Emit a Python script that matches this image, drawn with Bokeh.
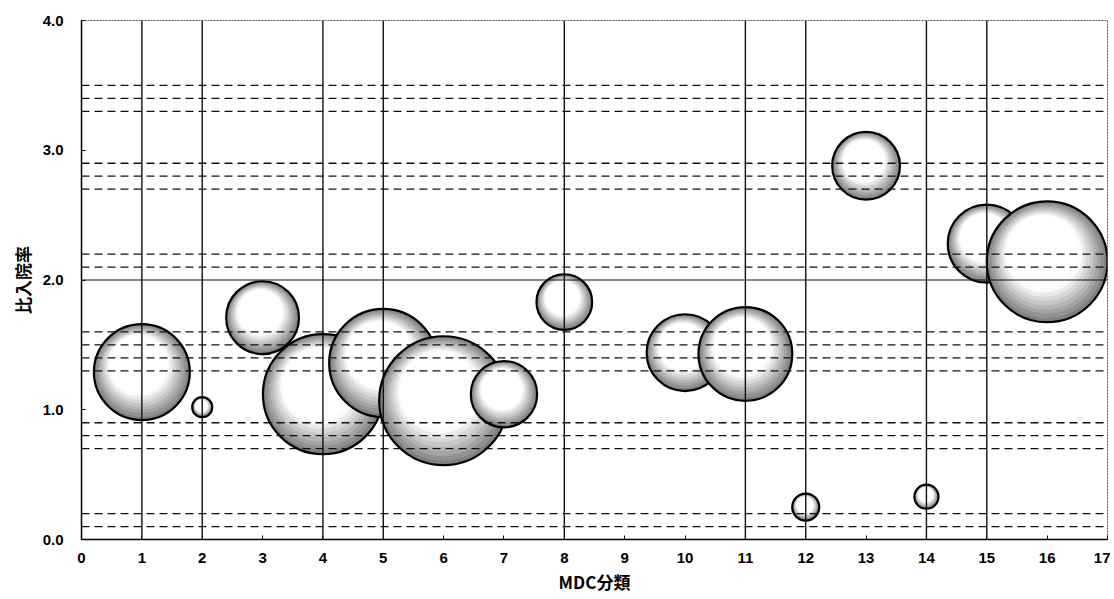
import numpy as np
from bokeh.plotting import figure
from bokeh.models import Range1d, FixedTicker, NumeralTickFormatter, Span, ColumnDataSource
from bokeh.embed import file_html
from bokeh.resources import INLINE

# ---- data ----
mdc = [1, 2, 3, 4, 5, 6, 7, 8, 10, 11, 12, 13, 14, 15, 16]
ratio = [1.29, 1.02, 1.71, 1.12, 1.36, 1.07, 1.12, 1.83, 1.44, 1.43, 0.25, 2.88, 0.33, 2.28, 2.14]
bubble_value = [92, 4.0, 53, 144, 117, 166, 44, 31, 59, 88, 7.3, 46, 5.8, 61, 146]
x_ticks = list(range(0, 18))
y_ticks = [0, 1, 2, 3, 4]
drop_lines_x = [1, 2, 4, 5, 8, 11, 12, 14, 15]
dashed_y = [0.1, 0.2, 0.7, 0.8, 0.9, 1.3, 1.4, 1.5, 1.6, 2.1, 2.2, 2.7, 2.8, 2.9, 3.3, 3.4, 3.5]
solid_y = [2.0]

# ---- layout ----
FRAME_W, FRAME_H = 1026, 519
BL, BR, BT, BB = 81, 3, 20, 60
X0, X1, Y0, Y1 = 0, 17, 0, 4
px_x = FRAME_W / (X1 - X0)
px_y = FRAME_H / (Y1 - Y0)
SIZE_SCALE = 10.0

p = figure(width=BL + FRAME_W + BR, height=BT + FRAME_H + BB,
           x_range=Range1d(X0, X1), y_range=Range1d(Y0, Y1),
           output_backend="svg", toolbar_location=None,
           min_border_left=BL, min_border_right=BR, min_border_top=BT, min_border_bottom=BB,
           background_fill_color="white", border_fill_color="white")
p.xgrid.visible = False
p.ygrid.visible = False
p.outline_line_color = "#555555"
p.outline_line_width = 1
p.outline_line_dash = "2 1"

# reference lines
for yv in dashed_y:
    p.add_layout(Span(location=yv, dimension="width", line_color="#111111",
                      line_width=1.3, line_dash="8 5"))
for yv in solid_y:
    p.add_layout(Span(location=yv, dimension="width", line_color="#111111", line_width=1.2))
for xv in drop_lines_x:
    p.add_layout(Span(location=xv, dimension="height", line_color="#111111", line_width=1.4))

# bubbles with layered shading (darker rim, light upper-left centre)
n_layers = 10
layers = []
for k in range(n_layers):
    t = k / (n_layers - 1)
    sf = 1.0 - 0.45 * t
    dxf = -0.04 * t
    dyf = 0.09 * t
    g = int(round(0x80 + (0xff - 0x80) * min(1.0, t * 1.25)))
    layers.append((sf, dxf, dyf, "#%02x%02x%02x" % (g, g, g)))

xs, ys, ss, fc, fa, la = [], [], [], [], [], []
for xv, yv, v in zip(mdc, ratio, bubble_value):
    d = SIZE_SCALE * np.sqrt(v)
    for sf, dxf, dyf, col in layers:
        xs.append(xv + dxf * d / px_x)
        ys.append(yv + dyf * d / px_y)
        ss.append(d * sf)
        fc.append(col)
        fa.append(1.0)
        la.append(0.0)
    xs.append(xv); ys.append(yv); ss.append(d); fc.append("#ffffff"); fa.append(0.0); la.append(1.0)

src = ColumnDataSource(dict(x=xs, y=ys, size=ss, fc=fc, fa=fa, la=la))
p.scatter("x", "y", size="size", source=src, marker="circle",
          fill_color="fc", fill_alpha="fa", line_color="black", line_alpha="la", line_width=2.2)

# axes
p.xaxis.ticker = FixedTicker(ticks=x_ticks)
p.yaxis.ticker = FixedTicker(ticks=y_ticks)
p.yaxis.formatter = NumeralTickFormatter(format="0.0")
for ax in (p.xaxis[0], p.yaxis[0]):
    ax.major_tick_in = 4
    ax.major_tick_out = 0
    ax.minor_tick_in = 0
    ax.minor_tick_out = 0
    ax.axis_line_color = "black"
    ax.axis_line_width = 1.5
    ax.major_tick_line_color = "black"
    ax.major_label_text_font = "Liberation Sans"
    ax.major_label_text_font_style = "bold"
    ax.major_label_text_font_size = "15px"
    ax.major_label_text_color = "black"
    ax.axis_label_text_font = "Noto Sans CJK JP"
    ax.axis_label_text_font_style = "bold"
    ax.axis_label_text_color = "black"
    ax.axis_label_text_font_size = "17px"

p.xaxis.major_label_standoff = 13
p.yaxis.major_label_standoff = 18
p.xaxis.axis_label = "MDC分類"
p.yaxis.axis_label = "比入院率"
p.xaxis.axis_label_standoff = 3
p.yaxis.axis_label_standoff = 5

open("out.html", "w").write(file_html(p, INLINE))
